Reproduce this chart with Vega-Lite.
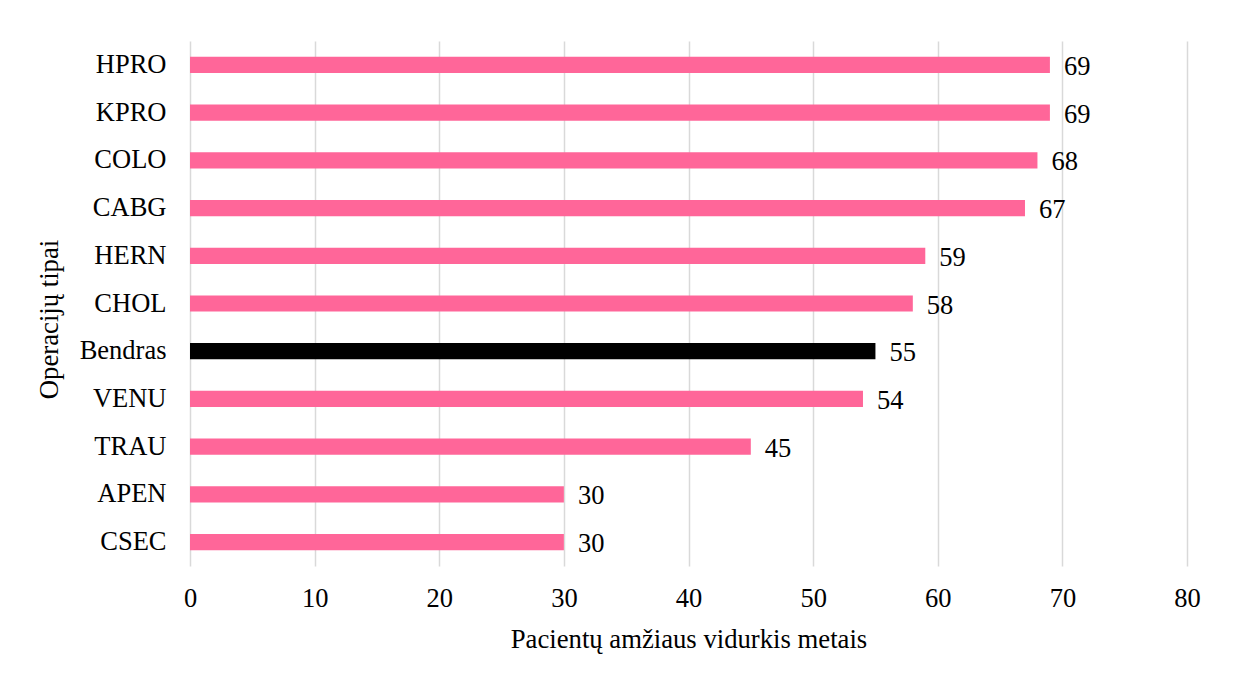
{
  "$schema": "https://vega.github.io/schema/vega-lite/v6.json",
  "width": 997,
  "height": 525,
  "autosize": {"type": "none"},
  "padding": {"left": 190, "top": 41, "right": 52, "bottom": 108},
  "background": "white",
  "config": {
    "font": "Liberation Serif",
    "view": {"stroke": null},
    "text": {"font": "Liberation Serif"},
    "axis": {
      "labelFont": "Liberation Serif",
      "titleFont": "Liberation Serif",
      "labelFontSize": 26.5,
      "titleFontSize": 26.7,
      "labelColor": "#000000",
      "titleColor": "#000000",
      "titleFontWeight": "normal"
    }
  },
  "data": {
    "values": [
      {"tipas": "HPRO", "amzius": 69},
      {"tipas": "KPRO", "amzius": 69},
      {"tipas": "COLO", "amzius": 68},
      {"tipas": "CABG", "amzius": 67},
      {"tipas": "HERN", "amzius": 59},
      {"tipas": "CHOL", "amzius": 58},
      {"tipas": "Bendras", "amzius": 55},
      {"tipas": "VENU", "amzius": 54},
      {"tipas": "TRAU", "amzius": 45},
      {"tipas": "APEN", "amzius": 30},
      {"tipas": "CSEC", "amzius": 30}
    ]
  },
  "encoding": {
    "y": {
      "field": "tipas",
      "type": "nominal",
      "sort": null,
      "scale": {"paddingInner": 0.66, "paddingOuter": 0.33},
      "axis": {
        "title": "Operacijų tipai",
        "titlePadding": 16,
        "titleY": 278,
        "labelPadding": 24,
        "ticks": false,
        "domain": false,
        "grid": false
      }
    },
    "x": {
      "field": "amzius",
      "type": "quantitative",
      "scale": {"domain": [0, 80], "nice": false},
      "axis": {
        "title": "Pacientų amžiaus vidurkis metais",
        "values": [0, 10, 20, 30, 40, 50, 60, 70, 80],
        "ticks": false,
        "domain": false,
        "grid": true,
        "gridColor": "#d9d9d9",
        "gridWidth": 1.5,
        "labelFlush": false,
        "labelPadding": 19,
        "titlePadding": 15
      }
    }
  },
  "layer": [
    {
      "mark": {"type": "bar"},
      "encoding": {
        "color": {
          "condition": {"test": "datum.tipas === 'Bendras'", "value": "#000000"},
          "value": "#ff6699"
        }
      }
    },
    {
      "mark": {"type": "text", "font": "Liberation Serif", "align": "left", "baseline": "middle", "dx": 14, "dy": 2, "fontSize": 26.5, "color": "#000000"},
      "encoding": {
        "text": {"field": "amzius", "type": "quantitative"}
      }
    }
  ]
}
